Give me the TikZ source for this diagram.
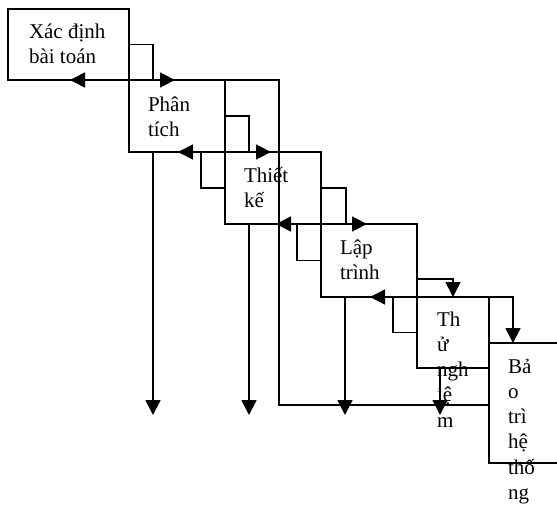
\documentclass[tikz,border=0pt]{standalone}
\usepackage{fontspec}
\setmainfont{Liberation Serif}
\usetikzlibrary{arrows.meta}
\begin{document}
\begin{tikzpicture}[x=1pt,y=-1pt,
  stage/.style={draw, line width=1.7pt, inner sep=0pt, outer sep=0pt, anchor=north west},
  txt/.style={anchor=north west, inner sep=0pt, outer sep=0pt, align=left,
    font=\fontsize{21}{25.3}\selectfont},
  conn/.style={draw, line width=1.7pt, -{Triangle[length=15pt,width=15pt]}},
]
\useasboundingbox (0,0) rectangle (557,506);
\clip (0,0) rectangle (557,506);

% boxes
\node[stage, minimum width=121pt, minimum height=71pt] (b1) at (8,9) {};
\node[stage, minimum width=96pt, minimum height=72pt] (b2) at (129,80) {};
\node[stage, minimum width=96pt, minimum height=72pt] (b3) at (225,152) {};
\node[stage, minimum width=96pt, minimum height=73pt] (b4) at (321,224) {};
\node[stage, minimum width=72pt, minimum height=71pt] (b5) at (417,297) {};
\node[stage, minimum width=90pt, minimum height=120pt] (b6) at (489,343) {};

% texts
\node[txt] (t1) at (29,20) {\rule{0pt}{18pt}Xác định\\bài toán};
\node[txt] (t2) at (148,93) {\rule{0pt}{18pt}Phân\\tích};
\node[txt] (t3) at (244,164) {\rule{0pt}{18pt}Thiết\\kế};
\node[txt] (t4) at (340,236) {\rule{0pt}{18pt}Lập\\trình};
\node[txt] (t5) at (437,308) {\rule{0pt}{18pt}Th\\ử\\ngh\\iệ\\m};
\node[txt] (t6) at (508,355) {\rule{0pt}{18pt}Bả\\o\\trì\\hệ\\thố\\ng};

% forward connectors
\draw[conn] (b1.east) -- ++(24,0) |- ([xshift=46pt]b2.north west);
\draw[conn] (b2.east) -- ++(24,0) |- ([xshift=46pt]b3.north west);
\draw[conn] (b3.east) -- ++(25,0) |- ([xshift=46pt]b4.north west);
\draw[conn] ([yshift=-18.5pt]b4.east) -| ([xshift=36pt]b5.north west);
\draw[conn] (b5.north east) -| ([xshift=24pt]b6.north west);

% feedback connectors
\draw[conn] (b3.west) -- ++(-24,0) |- ([xshift=49pt]b2.south west);
\draw[conn] (b4.west) -- ++(-24,0) |- ([xshift=51pt]b3.south west);
\draw[conn] (b5.west) -- ++(-24,0) |- ([xshift=49pt]b4.south west);
\draw[conn] ([yshift=-2pt]b6.west) -| ([xshift=54pt]b3.north west) |- ([xshift=62pt]b1.south west);

% downward arrows
\coordinate (bot) at (0,415);
\draw[conn] ([xshift=24pt]b2.south west) -- ([xshift=24pt]b2.south west |- bot);
\draw[conn] ([xshift=24pt]b3.south west) -- ([xshift=24pt]b3.south west |- bot);
\draw[conn] ([xshift=24pt]b4.south west) -- ([xshift=24pt]b4.south west |- bot);
\draw[conn] ([xshift=23pt]b5.south west) -- ([xshift=23pt]b5.south west |- bot);
\end{tikzpicture}
\end{document}
